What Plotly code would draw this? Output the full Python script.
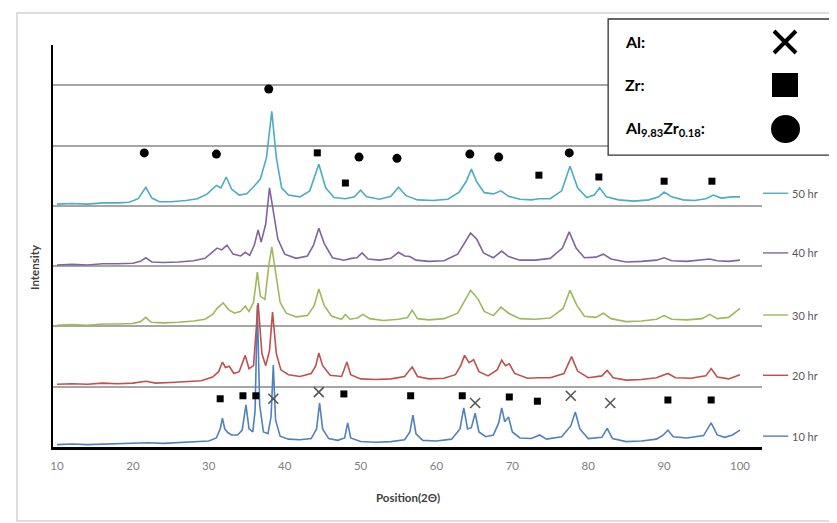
import plotly.graph_objects as go

# ---------------- data ----------------
x_10 = [10, 12, 14, 16, 18, 20, 22, 24, 26, 28, 30, 31.0, 31.5, 31.8, 32.1, 32.5, 33.0, 33.8, 34.4, 34.9,
        35.3, 35.8, 36.1, 36.4, 36.7, 37.2, 37.8, 38.2, 38.5, 38.8, 39.4, 40.5, 42, 43.5, 44.2, 44.6, 45.0,
        45.8, 47.0, 47.9, 48.3, 48.7, 50, 52, 54, 55.8, 56.5, 56.9, 57.3, 58.2, 60, 62, 63.1, 63.6, 64.1,
        64.6, 65.1, 65.6, 66.5, 67.5, 68.2, 68.6, 69.0, 69.5, 70.0, 71, 72.5, 73.6, 74.5, 76.5, 77.7, 78.3,
        78.9, 80, 81.8, 82.5, 83.2, 85, 87, 89, 89.9, 90.5, 91.2, 93, 95.2, 96.2, 97, 98, 99, 100]
y_10 = [0.04, 0.05, 0.04, 0.05, 0.05, 0.06, 0.07, 0.06, 0.07, 0.08, 0.10, 0.15, 0.30, 0.48, 0.30, 0.24, 0.20,
        0.20, 0.28, 0.70, 0.30, 0.25, 0.60, 2.35, 0.70, 0.25, 0.22, 0.50, 1.36, 0.45, 0.18, 0.13, 0.12, 0.14,
        0.30, 0.73, 0.30, 0.14, 0.11, 0.15, 0.40, 0.15, 0.09, 0.08, 0.09, 0.12, 0.25, 0.53, 0.22, 0.11, 0.10,
        0.13, 0.30, 0.65, 0.30, 0.32, 0.56, 0.25, 0.17, 0.20, 0.40, 0.65, 0.42, 0.50, 0.25, 0.15, 0.14, 0.20,
        0.13, 0.17, 0.35, 0.58, 0.30, 0.14, 0.16, 0.31, 0.14, 0.09, 0.10, 0.13, 0.20, 0.28, 0.17, 0.15, 0.19,
        0.40, 0.20, 0.16, 0.20, 0.28]

x_20 = [10, 12, 14, 16, 18, 20, 21.7, 23, 25, 27, 29, 30.5, 31.3, 31.8, 32.2, 32.7, 33.3, 34.0, 34.8, 35.3,
        35.9, 36.5, 37.0, 37.5, 38.0, 38.4, 38.9, 39.5, 40.5, 42, 43.5, 44.1, 44.5, 45.0, 46, 47.5, 48.2,
        48.7, 50, 52, 54, 55.8, 56.8, 57.5, 59, 61, 62.5, 63.2, 63.7, 64.3, 64.9, 65.6, 66.8, 68, 68.6, 69.1,
        69.6, 70.3, 72, 73.5, 75, 76.8, 77.8, 78.6, 80, 81.8, 82.5, 83.3, 85, 87, 89, 90.5, 91.5, 93.5, 95.5,
        96.2, 97, 98.5, 100]
y_20 = [1.04, 1.05, 1.04, 1.06, 1.05, 1.06, 1.09, 1.06, 1.07, 1.08, 1.10, 1.16, 1.25, 1.41, 1.32, 1.34, 1.22,
        1.25, 1.52, 1.30, 1.35, 2.39, 1.55, 1.35, 1.60, 2.24, 1.55, 1.28, 1.20, 1.17, 1.22, 1.35, 1.56, 1.35,
        1.19, 1.17, 1.41, 1.20, 1.13, 1.12, 1.13, 1.17, 1.33, 1.17, 1.13, 1.14, 1.20, 1.35, 1.52, 1.40, 1.45,
        1.25, 1.18, 1.28, 1.44, 1.35, 1.38, 1.22, 1.14, 1.15, 1.15, 1.22, 1.50, 1.26, 1.15, 1.18, 1.27, 1.15,
        1.11, 1.12, 1.15, 1.22, 1.15, 1.14, 1.18, 1.30, 1.16, 1.13, 1.20]

x_30 = [10, 12, 14, 16, 18, 20, 21.0, 21.7, 22.4, 24, 26, 28, 29.5, 30.5, 31.1, 31.9, 32.6, 33.4, 34.2, 34.8,
        35.3, 35.9, 36.4, 36.8, 37.4, 37.9, 38.3, 38.8, 39.4, 40.2, 41.5, 43, 43.9, 44.5, 45.2, 46.2, 47.5,
        48.0, 48.6, 49.6, 50.3, 51.2, 53, 55, 56.2, 56.8, 57.5, 59, 61, 62.8, 63.7, 64.5, 65.5, 66.3, 67.5,
        68.5, 69.5, 71, 73, 75, 76.7, 77.6, 78.5, 79.5, 81, 82, 83, 85, 87, 89, 90, 91, 93, 95, 96, 97, 98.5,
        100]
y_30 = [2.02, 2.03, 2.02, 2.04, 2.04, 2.05, 2.08, 2.15, 2.07, 2.06, 2.07, 2.09, 2.12, 2.20, 2.30, 2.39, 2.28,
        2.22, 2.25, 2.34, 2.25, 2.40, 2.90, 2.50, 2.45, 3.00, 3.32, 2.90, 2.40, 2.22, 2.16, 2.18, 2.35, 2.62,
        2.35, 2.17, 2.12, 2.20, 2.12, 2.14, 2.20, 2.13, 2.10, 2.12, 2.15, 2.27, 2.13, 2.11, 2.13, 2.22, 2.42,
        2.60, 2.45, 2.25, 2.18, 2.32, 2.22, 2.13, 2.12, 2.14, 2.30, 2.60, 2.35, 2.17, 2.15, 2.22, 2.13, 2.08,
        2.09, 2.12, 2.18, 2.12, 2.11, 2.13, 2.20, 2.13, 2.15, 2.30]

x_40 = [10, 12, 14, 16, 18, 20, 21.0, 21.7, 22.5, 24, 26, 28, 29.5, 30.4, 31.1, 31.7, 32.4, 33.2, 34.2, 34.8,
        35.4, 36.0, 36.5, 36.9, 37.5, 38.0, 38.5, 39.1, 40, 41.5, 43, 43.8, 44.5, 45.2, 46.3, 47.8, 48.8,
        49.5, 50.2, 51, 52.5, 54, 55, 55.8, 56.5, 57.3, 59, 61, 62.8, 63.8, 64.5, 65.3, 66.2, 67.5, 68.6,
        69.5, 71, 73, 75, 76.6, 77.5, 78.4, 79.5, 81, 82, 83, 85, 87, 89, 90, 91, 93, 95, 96, 97, 98.5, 100]
y_40 = [3.02, 3.03, 3.02, 3.04, 3.04, 3.05, 3.08, 3.14, 3.07, 3.06, 3.07, 3.09, 3.13, 3.22, 3.30, 3.27, 3.35,
        3.20, 3.17, 3.23, 3.18, 3.35, 3.60, 3.40, 3.70, 4.30, 3.90, 3.45, 3.20, 3.13, 3.17, 3.35, 3.63, 3.38,
        3.14, 3.10, 3.13, 3.14, 3.22, 3.12, 3.10, 3.13, 3.23, 3.17, 3.16, 3.10, 3.08, 3.09, 3.20, 3.42, 3.55,
        3.45, 3.22, 3.14, 3.25, 3.16, 3.10, 3.10, 3.13, 3.30, 3.57, 3.30, 3.14, 3.15, 3.20, 3.12, 3.07, 3.08,
        3.10, 3.14, 3.09, 3.08, 3.10, 3.12, 3.09, 3.08, 3.10]

x_50 = [10, 12, 14, 16, 18, 19.5, 20.7, 21.7, 22.5, 23.5, 25, 27, 28.5, 29.8, 31.0, 31.6, 32.3, 33.0, 34.0,
        35.0, 36.0, 36.8, 37.6, 38.3, 38.9, 39.6, 40.5, 42, 43.3, 44.5, 45.4, 46.5, 48, 49.2, 50.0, 50.8,
        52.5, 54, 55.0, 56, 57.5, 59.5, 61.5, 63, 63.9, 64.6, 65.3, 66.3, 67.5, 68.5, 69.5, 71, 72.5, 73.5,
        75, 76.5, 77.6, 78.6, 79.8, 80.8, 81.5, 82.4, 84, 86, 88, 89.3, 90, 91, 92.5, 94, 95.5, 96.5, 97.5,
        99, 100]
y_50 = [4.03, 4.04, 4.03, 4.05, 4.05, 4.06, 4.12, 4.31, 4.13, 4.07, 4.07, 4.09, 4.12, 4.20, 4.34, 4.30, 4.48,
        4.28, 4.18, 4.20, 4.33, 4.45, 4.80, 5.57, 4.80, 4.30, 4.18, 4.15, 4.25, 4.69, 4.30, 4.14, 4.12, 4.15,
        4.26, 4.15, 4.11, 4.16, 4.31, 4.17, 4.10, 4.09, 4.11, 4.23, 4.40, 4.61, 4.40, 4.22, 4.20, 4.25, 4.16,
        4.11, 4.10, 4.12, 4.12, 4.25, 4.66, 4.30, 4.14, 4.18, 4.30, 4.15, 4.10, 4.08, 4.10, 4.15, 4.23, 4.15,
        4.10, 4.09, 4.12, 4.18, 4.13, 4.15, 4.15]

series_names = ["10 hr", "20 hr", "30 hr", "40 hr", "50 hr"]
series_colors = ["#4F81BD", "#C0504D", "#9BBB59", "#8064A2", "#4BACC6"]
label_y = [0.18, 1.19, 2.19, 3.22, 4.21]

# phase markers
al_x = [38.5, 44.5, 65.1, 77.7, 82.9]
al_y = [0.80, 0.91, 0.73, 0.85, 0.73]
zr_x = [31.5, 34.5, 36.2, 47.8, 56.6, 63.4, 69.6, 73.3, 90.5, 96.2,
        44.3, 48.0, 73.5, 81.4, 90.0, 96.3]
zr_y = [0.80, 0.85, 0.85, 0.88, 0.85, 0.85, 0.83, 0.76, 0.78, 0.78,
        4.88, 4.38, 4.51, 4.48, 4.41, 4.41]
alzr_x = [21.5, 31.0, 37.9, 49.8, 54.8, 64.4, 68.2, 77.5]
alzr_y = [4.88, 4.86, 5.94, 4.81, 4.79, 4.86, 4.81, 4.88]

x_ticks = [10, 20, 30, 40, 50, 60, 70, 80, 90, 100]

# ---------------- figure ----------------
fig = go.Figure()
xs = [x_10, x_20, x_30, x_40, x_50]
ys = [y_10, y_20, y_30, y_40, y_50]
for xv, yv, nm, col in zip(xs, ys, series_names, series_colors):
    fig.add_trace(go.Scatter(x=xv, y=yv, mode="lines", name=nm,
                             line=dict(color=col, width=1.6), showlegend=False))

fig.add_trace(go.Scatter(x=al_x, y=al_y, mode="markers", showlegend=False,
                         marker=dict(symbol="x-thin", size=10, line=dict(color="#555555", width=1.6))))
fig.add_trace(go.Scatter(x=zr_x, y=zr_y, mode="markers", showlegend=False,
                         marker=dict(symbol="square", size=7, color="black")))
fig.add_trace(go.Scatter(x=alzr_x, y=alzr_y, mode="markers", showlegend=False,
                         marker=dict(symbol="circle", size=9, color="black")))

FONT = "Lato"
shapes = []
annotations = []

# outer chart frame
shapes.append(dict(type="rect", xref="paper", yref="paper", x0=-0.0508, x1=1.12, y0=-0.184, y1=1.0796,
                   line=dict(color="#d4d4d4", width=1.5), layer="below"))

# right-hand series labels
for nm, col, ly in zip(series_names, series_colors, label_y):
    shapes.append(dict(type="line", xref="paper", yref="y", x0=1.0014, x1=1.037, y0=ly, y1=ly,
                       line=dict(color=col, width=1.4)))
    annotations.append(dict(x=1.039, y=ly, xref="paper", yref="y", text=nm, showarrow=False,
                            xanchor="left", yanchor="middle",
                            font=dict(family=FONT, size=11, color="#595959")))

# phase key box
shapes.append(dict(type="rect", xref="paper", yref="paper", x0=0.783, x1=1.25, y0=0.726, y1=1.0647,
                   fillcolor="white", line=dict(color="#333333", width=1.3), layer="above"))
key_texts = ["<b>Al:</b>", "<b>Zr:</b>", "<b>Al<sub>9.83</sub>Zr<sub>0.18</sub>:</b>"]
key_y = [1.0075, 0.9005, 0.7935]
for t, ky in zip(key_texts, key_y):
    annotations.append(dict(x=0.804, y=ky, xref="paper", yref="paper", text=t, showarrow=False,
                            xanchor="left", yanchor="middle",
                            font=dict(family=FONT, size=16, color="black")))
# key symbols
shapes.append(dict(type="line", xref="paper", yref="paper", x0=1.0169, x1=1.0479, y0=1.0348, y1=0.9801,
                   line=dict(color="black", width=4), layer="above"))
shapes.append(dict(type="line", xref="paper", yref="paper", x0=1.0169, x1=1.0479, y0=0.9801, y1=1.0348,
                   line=dict(color="black", width=4), layer="above"))
shapes.append(dict(type="rect", xref="paper", yref="paper", x0=1.0141, x1=1.0508, y0=0.8706, y1=0.9303,
                   fillcolor="black", line=dict(color="black", width=0), layer="above"))
shapes.append(dict(type="circle", xref="paper", yref="paper", x0=1.0127, x1=1.0536, y0=0.7562, y1=0.8259,
                   fillcolor="black", line=dict(color="black", width=0), layer="above"))

# axis titles
annotations.append(dict(x=0.5, y=-0.125, xref="paper", yref="paper", text="<b>Position(2Θ)</b>",
                        showarrow=False, xanchor="center", yanchor="middle",
                        font=dict(family=FONT, size=11.5, color="#404040")))
annotations.append(dict(x=-0.0254, y=0.448, xref="paper", yref="paper", text="<b>Intensity</b>",
                        showarrow=False, textangle=-90, xanchor="center", yanchor="middle",
                        font=dict(family=FONT, size=11.5, color="#404040")))

# the page body adds an 8px offset, so the figure is 8px smaller and margins compensate
fig.update_layout(
    width=829, height=515,
    margin=dict(l=45, r=75, t=37, b=76),
    paper_bgcolor="white", plot_bgcolor="white",
    shapes=shapes, annotations=annotations,
    showlegend=False,
    xaxis=dict(range=[9.47, 102.9], tickvals=x_ticks, ticktext=[str(v) for v in x_ticks],
               showgrid=False, zeroline=False, showline=True, linecolor="black", linewidth=3,
               ticks="", ticklabelstandoff=6,
               tickfont=dict(family=FONT, size=11.5, color="#7f7f7f")),
    yaxis=dict(range=[0, 6.67], dtick=1, tick0=0, showticklabels=False, showgrid=True,
               gridcolor="#a6a6a6", gridwidth=1.5, zeroline=False, showline=True,
               linecolor="black", linewidth=2, ticks=""),
)

fig.write_html("out.html")
